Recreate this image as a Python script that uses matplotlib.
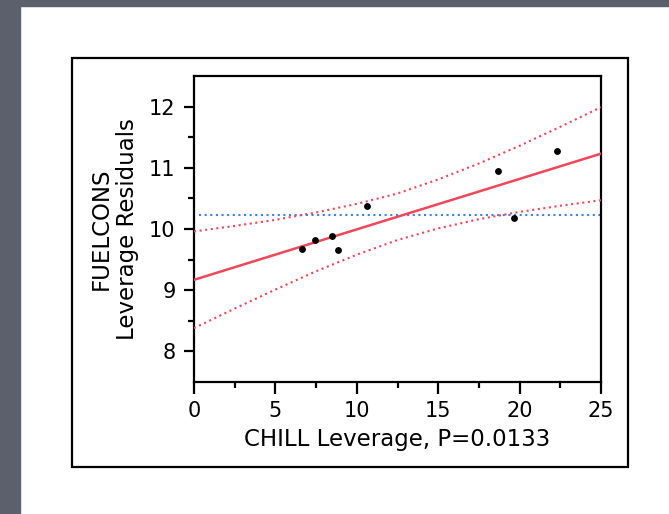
import matplotlib.pyplot as plt
import matplotlib.patches as patches
import numpy as np

# leverage points
chill = [6.61, 7.45, 8.48, 8.84, 10.6, 18.68, 19.67, 22.32]
fuel = [9.67, 9.82, 9.89, 9.66, 10.37, 10.95, 10.18, 11.28]

# confidence curves (read at every 2.5 on the x axis)
band_x = [0, 2.5, 5, 7.5, 10, 12.5, 15, 17.5, 20, 22.5, 25]
band_hi = [9.96, 10.05, 10.15, 10.27, 10.41, 10.58, 10.81, 11.07, 11.36, 11.67, 11.99]
band_lo = [8.38, 8.70, 9.01, 9.31, 9.58, 9.82, 10.01, 10.16, 10.28, 10.38, 10.47]

red = '#f0465a'
blue = '#3b80ee'

fig = plt.figure(figsize=(6.69, 5.14), dpi=100)
fig.patch.set_facecolor('white')

# slide background strips
fig.patches.append(patches.Rectangle((0, 0), 20/669, 1, transform=fig.transFigure,
                                     color='#5c606c', zorder=0))
fig.patches.append(patches.Rectangle((0, 1-6/514), 1, 6/514, transform=fig.transFigure,
                                     color='#5c606c', zorder=0))
# outer frame
fig.patches.append(patches.Rectangle((72/669, 1-467/514), 556/669, 409/514,
                                     transform=fig.transFigure, fill=False,
                                     edgecolor='black', lw=1.6, zorder=1))

ax = fig.add_axes([194/669, 1-382/514, 407/669, 306/514])

xs = np.array(chill)
b, a = np.polyfit(xs, fuel, 1)
xl = np.array([0, 25])
dots = (0, (1, 1.7))
ax.plot(xl, a + b*xl, color=red, lw=1.8, zorder=3)
ax.plot(band_x, band_hi, color=red, lw=1.5, linestyle=dots, zorder=3)
ax.plot(band_x, band_lo, color=red, lw=1.5, linestyle=dots, zorder=3)
ax.axhline(np.mean(fuel), xmin=0.012, color=blue, lw=1.5, linestyle=dots, zorder=2)
ax.plot(chill, fuel, 'o', color='black', ms=3.9, zorder=4)

ax.set_xlim(0, 25)
ax.set_ylim(7.5, 12.5)
ax.set_xticks([0, 5, 10, 15, 20, 25])
ax.set_xticks([2.5, 7.5, 12.5, 17.5, 22.5], minor=True)
ax.set_yticks([8, 9, 10, 11, 12])
ax.set_yticks([8.5, 9.5, 10.5, 11.5], minor=True)

for s in ax.spines.values():
    s.set_linewidth(1.6)
ax.tick_params(axis='x', which='major', length=8.6, width=1.6, pad=5, labelsize=15)
ax.tick_params(axis='x', which='minor', length=4.5, width=1.6)
ax.tick_params(axis='y', which='major', length=7.2, width=1.6, pad=6, labelsize=15)
ax.tick_params(axis='y', which='minor', length=4.3, width=1.6)

fig.text(397/669, 1-446/514, 'CHILL Leverage, P=0.0133', ha='center', va='baseline',
         fontsize=16.5)
fig.text(114.5/669, 1-229/514, 'FUELCONS\nLeverage Residuals', ha='center', va='center',
         rotation=90, fontsize=16.5, multialignment='center', linespacing=1.15)

fig.savefig('out.png', dpi=100)
